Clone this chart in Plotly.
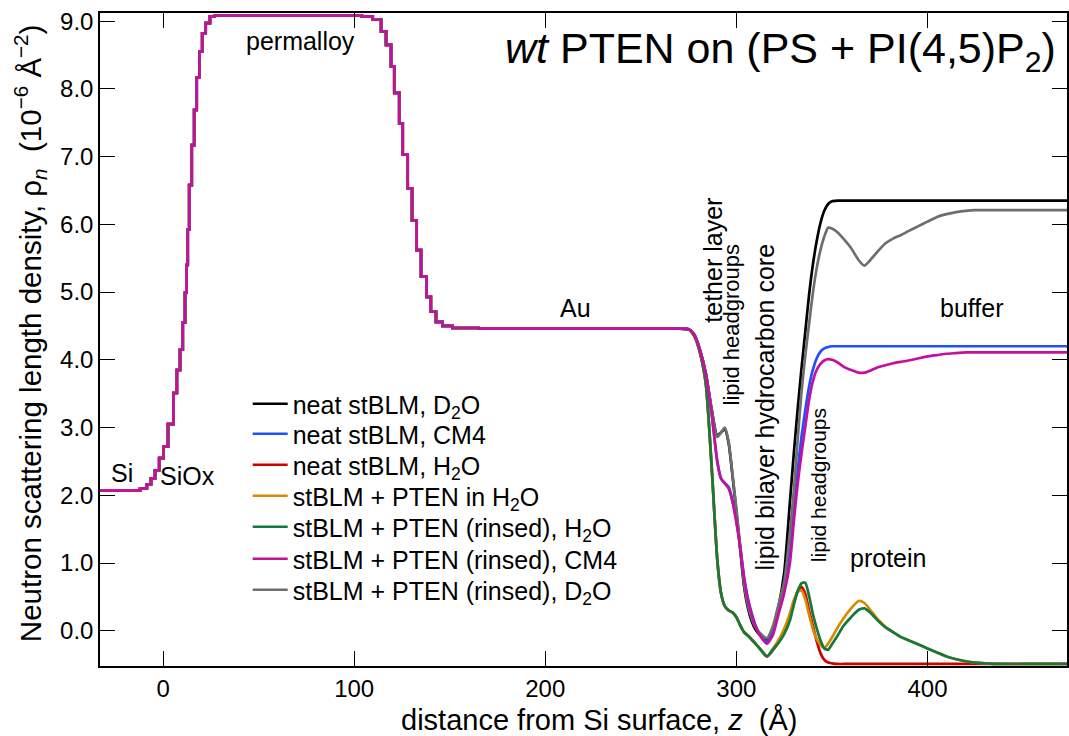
import plotly.graph_objects as go

FONT = "Liberation Sans, Arial, Helvetica, sans-serif"

# ---- shared substrate (Si / SiOx / permalloy / Au) slab profile, step points ----
z_sub = [-33, -12, -8.5, -6.3, -4.2, -2.0, 0.2, 2.6, 5.4, 7.2, 8.9, 10.3, 11.5, 12.3,
         12.9, 13.7, 15.0, 16.3, 17.6, 19.0, 20.5, 22.3, 24.5, 27.0, 104.0, 109.7,
         114.1, 116.7, 119.3, 121.0, 123.6, 125.4, 128.0, 130.3, 132.7, 135.0, 137.9,
         140.1, 142.8, 146.2, 151.4, 165.0, 270.0]
rho_sub = [2.07, 2.10, 2.16, 2.25, 2.37, 2.55, 2.72, 3.05, 3.51, 3.85, 4.15, 4.55, 4.99,
           5.40, 5.92, 6.58, 7.17, 7.69, 8.17, 8.55, 8.82, 8.97, 9.07, 9.08, 9.07, 9.02,
           8.85, 8.65, 8.33, 7.94, 7.49, 7.03, 6.53, 6.06, 5.62, 5.23, 4.93, 4.71, 4.56,
           4.50, 4.47, 4.46, 4.46]

# ---- membrane / protein / buffer region ----
z_mem = [270, 275, 278, 281, 284, 287, 290, 292, 294, 296, 298, 300, 302, 304, 306, 308,
         310, 313, 316, 319, 322, 325, 328, 330, 332, 334, 336, 338, 340, 342, 344, 346,
         348, 350, 353, 356, 360, 364, 367, 370, 374, 378, 382, 386, 390, 395, 400, 405,
         410, 415, 420, 425, 430, 440, 450, 460, 475]

rho_neat_d2o = [4.46, 4.45, 4.37, 4.14, 3.80, 3.28, 2.88, 2.93, 2.98, 2.76, 2.28, 1.76,
                1.20, 0.66, 0.34, 0.14, 0.02, -0.08, -0.13, 0.02, 0.35, 0.85, 1.90, 2.60,
                3.25, 3.85, 4.40, 4.95, 5.40, 5.75, 6.02, 6.20, 6.30, 6.34, 6.35, 6.35,
                6.35, 6.35, 6.35, 6.35, 6.35, 6.35, 6.35, 6.35, 6.35, 6.35, 6.35, 6.35,
                6.35, 6.35, 6.35, 6.35, 6.35, 6.35, 6.35, 6.35, 6.35]
rho_neat_cm4 = [4.46, 4.45, 4.37, 4.14, 3.79, 3.22, 2.50, 2.25, 2.18, 2.12, 1.92, 1.62,
                1.25, 0.80, 0.48, 0.26, 0.08, -0.08, -0.16, -0.03, 0.28, 0.60, 1.15, 1.75,
                2.35, 2.85, 3.25, 3.60, 3.85, 4.02, 4.12, 4.17, 4.19, 4.20, 4.20, 4.20,
                4.20, 4.20, 4.20, 4.20, 4.20, 4.20, 4.20, 4.20, 4.20, 4.20, 4.20, 4.20,
                4.20, 4.20, 4.20, 4.20, 4.20, 4.20, 4.20, 4.20, 4.20]
rho_neat_h2o = [4.46, 4.45, 4.35, 4.10, 3.65, 2.45, 1.05, 0.55, 0.36, 0.30, 0.27, 0.20,
                0.08, -0.02, -0.07, -0.13, -0.19, -0.29, -0.38, -0.29, -0.17, -0.02, 0.20, 0.40,
                0.58, 0.65, 0.55, 0.30, 0.08, -0.15, -0.33, -0.43, -0.47, -0.48, -0.49, -0.49,
                -0.49, -0.49, -0.49, -0.49, -0.49, -0.49, -0.49, -0.49, -0.49, -0.49, -0.49, -0.49,
                -0.49, -0.49, -0.49, -0.49, -0.49, -0.49, -0.49, -0.49, -0.49]
rho_pten_h2o = [4.46, 4.45, 4.35, 4.10, 3.65, 2.45, 1.05, 0.55, 0.36, 0.30, 0.27, 0.20,
                0.08, -0.02, -0.07, -0.13, -0.19, -0.29, -0.38, -0.27, -0.14, 0.03, 0.26, 0.45,
                0.57, 0.60, 0.47, 0.24, 0.03, -0.12, -0.21, -0.25, -0.19, -0.10, 0.05, 0.18,
                0.33, 0.44, 0.41, 0.31, 0.17, 0.06, -0.02, -0.09, -0.14, -0.20, -0.26, -0.32,
                -0.38, -0.42, -0.45, -0.47, -0.48, -0.49, -0.49, -0.49, -0.49]
rho_rinsed_h2o = [4.46, 4.45, 4.35, 4.10, 3.65, 2.45, 1.05, 0.55, 0.36, 0.30, 0.27, 0.20,
                  0.08, -0.02, -0.07, -0.13, -0.19, -0.29, -0.38, -0.28, -0.18, -0.05, 0.15, 0.38,
                  0.58, 0.70, 0.71, 0.52, 0.25, 0.04, -0.14, -0.26, -0.28, -0.20, -0.07, 0.07,
                  0.20, 0.31, 0.33, 0.27, 0.15, 0.05, -0.02, -0.09, -0.14, -0.20, -0.26, -0.32,
                  -0.38, -0.42, -0.45, -0.47, -0.48, -0.49, -0.49, -0.49, -0.49]
rho_rinsed_cm4 = [4.46, 4.45, 4.37, 4.14, 3.79, 3.22, 2.50, 2.24, 2.17, 2.10, 1.90, 1.60,
                  1.22, 0.78, 0.46, 0.24, 0.06, -0.10, -0.19, -0.07, 0.24, 0.55, 1.00, 1.60,
                  2.15, 2.60, 3.00, 3.40, 3.68, 3.85, 3.94, 3.99, 4.01, 4.00, 3.96, 3.90,
                  3.85, 3.81, 3.81, 3.84, 3.89, 3.92, 3.95, 3.97, 3.99, 4.02, 4.05, 4.07,
                  4.09, 4.10, 4.11, 4.11, 4.11, 4.11, 4.11, 4.11, 4.11]
rho_rinsed_d2o = [4.46, 4.45, 4.37, 4.14, 3.80, 3.28, 2.86, 2.93, 3.00, 2.78, 2.30, 1.80,
                  1.25, 0.70, 0.38, 0.18, 0.05, -0.05, -0.11, 0.06, 0.38, 0.72, 1.45, 2.05,
                  2.80, 3.50, 4.05, 4.52, 4.98, 5.35, 5.62, 5.82, 5.95, 5.94, 5.88, 5.79,
                  5.65, 5.47, 5.39, 5.47, 5.60, 5.72, 5.79, 5.84, 5.90, 5.97, 6.04, 6.11,
                  6.15, 6.18, 6.20, 6.21, 6.21, 6.21, 6.21, 6.21, 6.21]

series_names = ["neat stBLM, D<sub>2</sub>O", "neat stBLM, CM4", "neat stBLM, H<sub>2</sub>O",
                "stBLM + PTEN in H<sub>2</sub>O", "stBLM + PTEN (rinsed), H<sub>2</sub>O",
                "stBLM + PTEN (rinsed), CM4", "stBLM + PTEN (rinsed), D<sub>2</sub>O"]
series_values = [rho_neat_d2o, rho_neat_cm4, rho_neat_h2o, rho_pten_h2o,
                 rho_rinsed_h2o, rho_rinsed_cm4, rho_rinsed_d2o]
series_colors = ["#000000", "#1f4fff", "#d00000", "#d98a00", "#137a3c", "#c4109f", "#6e6e6e"]
draw_order = [0, 1, 2, 3, 4, 6, 5]

# region labels: (text, z, rho, angle, size)
labels = [("Si", -21.4, 2.33, 0, 25), ("SiOx", 12.8, 2.28, 0, 25),
          ("permalloy", 72, 8.71, 0, 25), ("Au", 216, 4.76, 0, 25),
          ("tether layer", 288, 5.47, -90, 25), ("lipid headgroups", 297.3, 4.51, -90, 22),
          ("lipid bilayer hydrocarbon core", 315.1, 3.30, -90, 25),
          ("lipid headgroups", 342.7, 2.15, -90, 21),
          ("protein", 379.2, 1.07, 0, 25), ("buffer", 423, 4.77, 0, 25)]

x_ticks = [0, 100, 200, 300, 400]
y_ticks = [0, 1, 2, 3, 4, 5, 6, 7, 8, 9]

# layout geometry (pixels)
W, H = 1069, 736
ML, MR, MT, MB = 100, 0, 13, 70
PW, PH = W - ML - MR, H - MT - MB


def px_to_paper_x(px):
    return (px - ML) / PW


def px_to_paper_y(py):
    return (H - MB - py) / PH


fig = go.Figure()
for i in draw_order:
    fig.add_trace(go.Scatter(x=z_sub, y=rho_sub, mode="lines", line_shape="hv",
                             line=dict(color=series_colors[i], width=2.7),
                             showlegend=False, hoverinfo="skip"))
    fig.add_trace(go.Scatter(x=z_mem, y=series_values[i], mode="lines",
                             line=dict(color=series_colors[i], width=2.7, shape="spline",
                                       smoothing=0.6),
                             name=series_names[i],
                             legend="legend" if i == 0 else "legend%d" % (i + 1)))

for text, zx, ry, ang, sz in labels:
    fig.add_annotation(x=zx, y=ry, text=text, showarrow=False, textangle=ang,
                       font=dict(size=sz, color="black", family=FONT),
                       xanchor="center", yanchor="middle")

fig.add_annotation(xref="paper", yref="paper", x=px_to_paper_x(1060), y=px_to_paper_y(51),
                   text="<i>wt</i> PTEN on (PS + PI(4,5)P<sub>2</sub>)", showarrow=False,
                   xanchor="right", yanchor="middle",
                   font=dict(size=43, color="black", family=FONT))

# axis titles
fig.add_annotation(xref="paper", yref="paper", x=px_to_paper_x(600), y=px_to_paper_y(720),
                   text="distance from Si surface, <i>z</i>  (Å)", showarrow=False,
                   xanchor="center", yanchor="middle",
                   font=dict(size=29, color="black", family=FONT))
fig.add_annotation(xref="paper", yref="paper", x=px_to_paper_x(30), y=px_to_paper_y(333),
                   text="Neutron scattering length density, ρ<sub><i>n</i></sub>  (10<sup>−6</sup> Å<sup>−2</sup>)",
                   showarrow=False, textangle=-90, xanchor="center", yanchor="middle",
                   font=dict(size=29.5, color="black", family=FONT))

axis_common = dict(showgrid=False, zeroline=False, showline=True, linecolor="black",
                   linewidth=1.5, mirror="ticks", ticks="inside", ticklen=15, tickwidth=1,
                   tickcolor="black", tickfont=dict(size=24, color="black", family=FONT))

legend_rows = [404, 434, 465, 496, 527, 559, 590]
legends = {}
for k, yc in enumerate(legend_rows):
    key = "legend" if k == 0 else "legend%d" % (k + 1)
    legends[key] = dict(x=px_to_paper_x(248), y=px_to_paper_y(yc), xanchor="left",
                        yanchor="middle", bgcolor="rgba(0,0,0,0)", borderwidth=0,
                        font=dict(size=25, family=FONT, color="black"), itemwidth=35)

fig.update_layout(
    width=W, height=H,
    margin=dict(l=ML, r=MR, t=MT, b=MB),
    paper_bgcolor="white", plot_bgcolor="white",
    font=dict(family=FONT, color="black"),
    xaxis=dict(range=[-33, 473], tickvals=x_ticks, **axis_common),
    yaxis=dict(range=[-0.52, 9.12], tickvals=y_ticks, tickformat=".1f", **axis_common),
    showlegend=True,
    **legends,
)

fig.write_html("out.html", config={"displayModeBar": False},
               post_script="document.body.style.margin='0';")
